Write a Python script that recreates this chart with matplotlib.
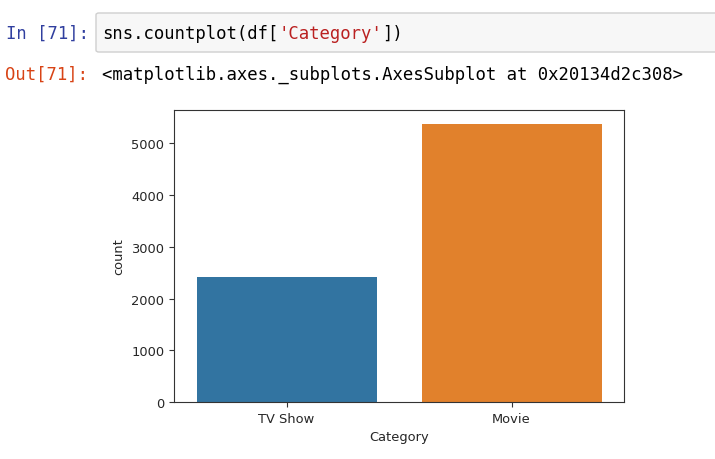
import matplotlib
matplotlib.use("Agg")
import matplotlib.pyplot as plt
from matplotlib.patches import FancyBboxPatch

# data
categories = ["TV Show", "Movie"]
counts = [2410, 5377]
bar_colors = ["#3274a1", "#e1812c"]

W, H = 715, 460
fig = plt.figure(figsize=(W / 100, H / 100), dpi=100)
fig.patch.set_facecolor("white")

def fx(px):
    return px / W

def fy(py):
    return 1 - py / H

mono = "DejaVu Sans Mono"
fs = 12.45

# the count plot
ax = fig.add_axes([fx(174), 1 - 403 / H, fx(450), 292 / H])
x = range(len(categories))
ax.bar(x, counts, width=0.8, color=bar_colors)
ax.set_xlim(-0.5, len(categories) - 0.5)
ax.set_ylim(0, max(counts) * 1.05)
ax.set_xticks(list(x))
ax.set_xticklabels(categories)
ax.set_yticks([0, 1000, 2000, 3000, 4000, 5000])
ax.tick_params(labelsize=9.4, colors="#333333", labelcolor="#262626")
for s in ax.spines.values():
    s.set_color("#333333")
ax.set_xlabel("Category", fontsize=9.4, color="#262626")
ax.set_ylabel("count", fontsize=9.4, color="#262626")

# notebook input cell
box = FancyBboxPatch((fx(96), fy(53)), fx(640), fy(14) - fy(53),
                     boxstyle="round,pad=0,rounding_size=0.004",
                     transform=fig.transFigure, facecolor="#f7f7f7",
                     edgecolor="#cfcfcf", linewidth=1, zorder=-1)
fig.patches.append(box)

fig.text(fx(6), fy(39), "In [71]:", family=mono, fontsize=fs,
         color="#303F9F", va="baseline")
t1 = fig.text(fx(102), fy(39), "sns.countplot(df[", family=mono,
              fontsize=fs, color="#000000", va="baseline")
t2 = ax.annotate("'Category'", xy=(1, 0), xycoords=t1, family=mono,
                 fontsize=fs, color="#BA2121", va="bottom", ha="left",
                 annotation_clip=False)
t3 = ax.annotate("])", xy=(1, 0), xycoords=t2, family=mono,
                 fontsize=fs, color="#000000", va="bottom", ha="left",
                 annotation_clip=False)

# output prompt
fig.text(fx(5), fy(80), "Out[71]:", family=mono, fontsize=fs,
         color="#D84315", va="baseline")
fig.text(fx(102), fy(80),
         "<matplotlib.axes._subplots.AxesSubplot at 0x20134d2c308>",
         family=mono, fontsize=fs, color="#000000", va="baseline")

fig.savefig("out.png", dpi=100)
